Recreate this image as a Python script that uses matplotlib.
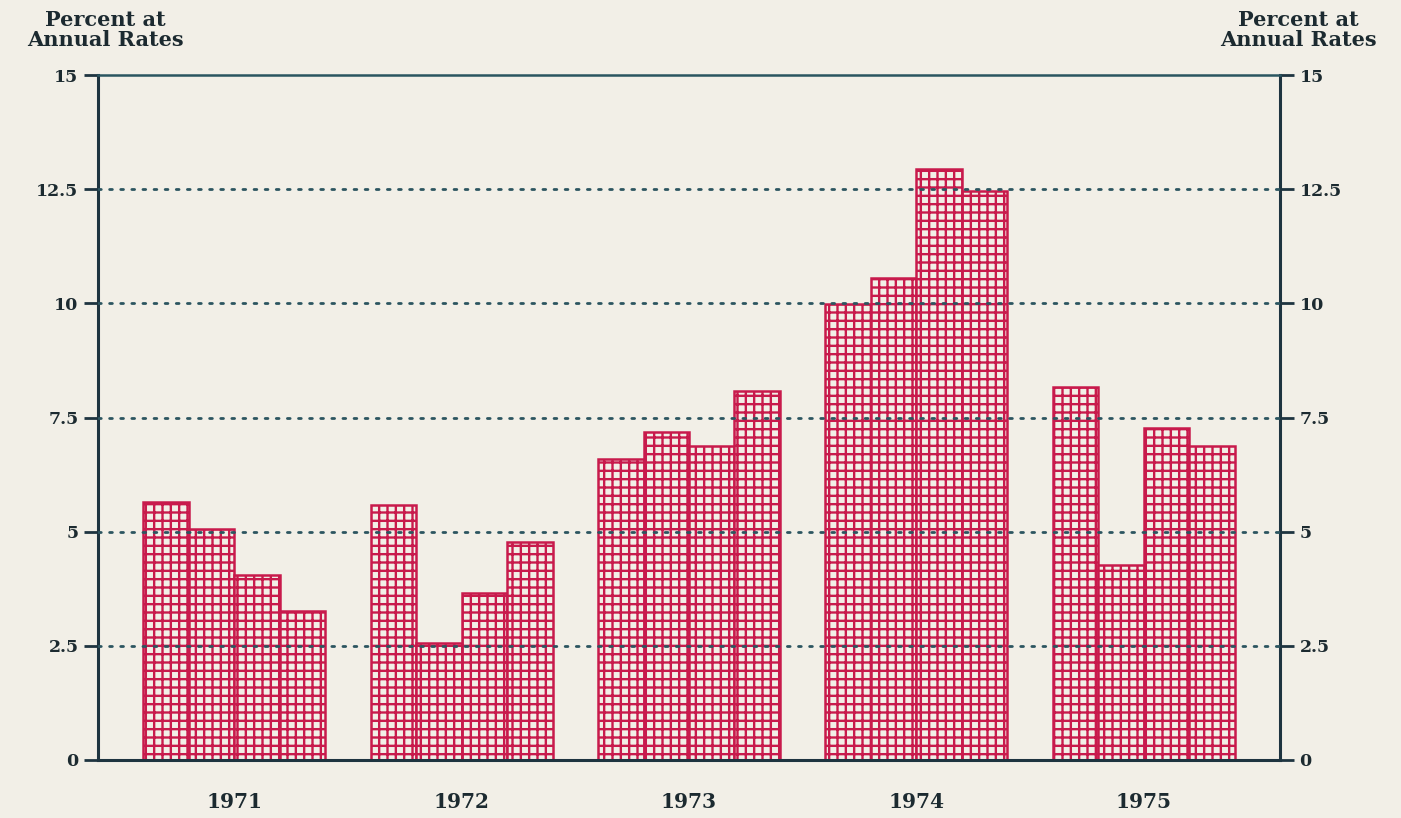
import matplotlib
matplotlib.use("Agg")
import matplotlib.pyplot as plt
import numpy as np

years = ["1971", "1972", "1973", "1974", "1975"]
values_1971 = [5.65, 5.06, 4.05, 3.26]
values_1972 = [5.58, 2.56, 3.66, 4.77]
values_1973 = [6.59, 7.18, 6.88, 8.08]
values_1974 = [9.98, 10.55, 12.94, 12.46]
values_1975 = [8.17, 4.27, 7.27, 6.88]
yticks = [0, 2.5, 5, 7.5, 10, 12.5, 15]
ytick_labels = ["0", "2.5", "5", "7.5", "10", "12.5", "15"]
axis_title = "Percent at\nAnnual Rates"

series = [values_1971, values_1972, values_1973, values_1974, values_1975]

BG = "#f2efe7"
RED = "#c81a4c"
DARK = "#1e3440"
GRID = "#2c5560"

plt.rcParams["hatch.linewidth"] = 1.7
plt.rcParams["font.family"] = ["DejaVu Serif"]

fig = plt.figure(figsize=(14.01, 8.18), dpi=100, facecolor=BG)
ax = fig.add_axes([98/1401, 1-760/818, (1280-98)/1401, (760-75)/818])
ax.set_facecolor(BG)

group_period = 5
for g, vals in enumerate(series):
    xs = [g*group_period + i for i in range(len(vals))]
    ax.bar(xs, vals, width=1.0, facecolor=BG, edgecolor=RED, hatch="++",
           linewidth=1.8, zorder=2)

ax.set_xlim(-1.5, 24.5)
ax.set_ylim(0, 15)

for y in yticks[1:-1]:
    ax.axhline(y, color=GRID, linestyle=(0, (1.0, 3.0)), linewidth=2.0,
               zorder=3, dash_capstyle="round")

for s in ["left", "right", "top", "bottom"]:
    ax.spines[s].set_color(DARK)
    ax.spines[s].set_linewidth(2.2)
ax.spines["top"].set_color("#2a5560")
ax.spines["top"].set_linewidth(1.8)
ax.spines["bottom"].set_zorder(4)

ax.set_yticks(yticks)
ax.set_yticklabels(ytick_labels)
ax.tick_params(axis="y", which="both", direction="out", length=10, width=2,
               color=DARK, labelsize=12.5, labelcolor="#1c2a30",
               left=True, right=True, labelleft=True, labelright=True, pad=4)
for lab in ax.get_yticklabels():
    lab.set_fontweight("bold")

centers = [g*group_period + 1.5 for g in range(len(years))]
ax.set_xticks(centers)
ax.set_xticklabels(years, fontsize=14.5, fontweight="bold", color="#1c2a30")
ax.tick_params(axis="x", length=0, pad=23)

fig.text(105/1401, 1-30/818, axis_title, ha="center", va="center",
         fontsize=15, fontweight="bold", color="#1c2a30", linespacing=0.95)
fig.text(1298/1401, 1-30/818, axis_title, ha="center", va="center",
         fontsize=15, fontweight="bold", color="#1c2a30", linespacing=0.95)

fig.savefig("out.png", dpi=100, facecolor=BG)
